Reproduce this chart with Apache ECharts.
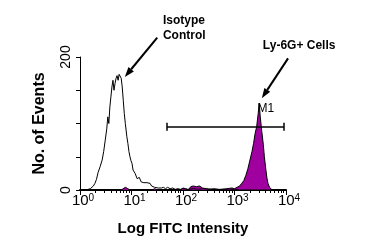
<!DOCTYPE html>
<html>
<head>
<meta charset="utf-8">
<script src="https://cdn.jsdelivr.net/npm/echarts@6/dist/echarts.min.js"></script>
<style>
  html, body { margin: 0; padding: 0; background: #fff; }
  #chart { width: 384px; height: 252px; }
</style>
</head>
<body>
<div id="chart"></div>
<script>
// x values are log10 of FITC intensity, y values are event counts
const isoLog = [0.00, 0.12, 0.16, 0.20, 0.23, 0.26, 0.29, 0.32, 0.35, 0.39, 0.43, 0.46, 0.49, 0.52, 0.54, 0.56,
  0.58, 0.60, 0.62, 0.64, 0.66, 0.68, 0.70, 0.72, 0.74, 0.76, 0.78, 0.80, 0.82, 0.84, 0.86, 0.88, 0.91, 0.93,
  0.95, 0.97, 0.99, 1.01, 1.03, 1.05, 1.07, 1.09, 1.11, 1.13, 1.15, 1.17, 1.19, 1.21, 1.24, 1.27, 1.30, 1.33,
  1.36, 1.39, 1.42, 1.45, 1.48, 1.52, 1.55, 1.58, 1.62, 1.66, 1.70, 1.75, 1.80, 1.85, 1.90, 1.95, 2.00, 2.10,
  2.20, 2.30, 2.40, 2.50, 2.60, 2.70, 2.80, 2.90, 3.00, 3.10, 4.00];
const isoCount = [0, 0, 1, 2, 4, 6, 10, 16, 26, 35, 45, 58, 75, 92, 110, 100,
  125, 140, 155, 165, 150, 160, 168, 172, 165, 174, 176, 168, 155, 135, 115, 100, 80, 70,
  58, 50, 44, 40, 30, 28, 25, 22, 17, 15, 19, 18, 12, 14, 11, 9, 11, 8,
  10, 6, 7, 4, 5, 3, 6, 3, 4, 2, 4, 2, 3, 1, 2, 1, 2, 1,
  2, 1, 2, 1, 2, 1, 1, 0, 1, 0, 0];

const lyLog = [0.00, 0.80, 0.83, 0.88, 0.93, 0.97, 1.40, 1.45, 1.50, 1.95, 2.00, 2.05, 2.10, 2.15, 2.20, 2.26,
  2.32, 2.38, 2.45, 2.55, 2.65, 2.75, 2.85, 2.95, 3.00, 3.05, 3.10, 3.14, 3.18, 3.22, 3.26, 3.30, 3.34, 3.37,
  3.40, 3.43, 3.46, 3.48, 3.50, 3.53, 3.56, 3.58, 3.61, 3.63, 3.65, 3.68, 3.72, 3.76, 4.00];
const lyCount = [0, 0, 3, 4, 2, 0, 0, 2, 0, 0, 3, 2, 0, 5, 6, 5,
  6, 3, 2, 1, 0, 1, 2, 3, 2, 4, 6, 10, 14, 22, 32, 45, 58, 70,
  85, 95, 115, 130, 110, 88, 68, 50, 30, 18, 10, 4, 1, 0, 0];

const xDecades = [0, 1, 2, 3, 4];
const yLabels = [0, 200];

// M1 gate and annotations, in data units
const gateFrom = 1.69;
const gateTo = 3.96;
const gateLevel = 95;
const isoArrow = [[1.50, 229], [0.87, 170]];
const lyArrow = [[4.04, 198], [3.53, 138]];
const isoTextAt = [1.61, 266];
const lyTextAt = [3.55, 226];
const m1TextAt = [3.61, 122];

const minorTicks = [];
for (let d = 0; d < 4; d++) {
  for (let k = 2; k <= 9; k++) {
    minorTicks.push(d + Math.log10(k));
  }
}

function pairs(xs, ys) {
  return xs.map((x, i) => [x, ys[i]]);
}

const chart = echarts.init(document.getElementById('chart'));

chart.setOption({
  animation: false,
  backgroundColor: '#fff',
  textStyle: { fontFamily: 'Liberation Sans, Arial, sans-serif', color: '#000' },
  grid: { left: 80, right: 98, top: 57, bottom: 62 },
  xAxis: [
    {
      type: 'value',
      min: 0,
      max: 4,
      interval: 1,
      name: 'Log FITC Intensity',
      nameLocation: 'middle',
      nameGap: 31,
      nameTextStyle: { fontSize: 15, fontWeight: 'bold', color: '#000' },
      axisLine: { lineStyle: { color: '#000', width: 2 } },
      axisTick: { length: 5, lineStyle: { color: '#000', width: 1 } },
      splitLine: { show: false },
      axisLabel: {
        margin: 3,
        color: '#000',
        formatter: (v) => xDecades.includes(v) ? '{b|10}{s|' + v + '}' : '',
        rich: {
          b: { fontSize: 15, color: '#000', padding: [0, 0, 0, 6] },
          s: { fontSize: 10, color: '#000', verticalAlign: 'top', padding: [0, 0, 6, 0] }
        }
      }
    },
    {
      type: 'value',
      min: 0,
      max: 4,
      position: 'bottom',
      axisLine: { show: false },
      axisLabel: { show: false },
      splitLine: { show: false },
      axisTick: { length: 3, customValues: minorTicks, lineStyle: { color: '#000', width: 1 } }
    }
  ],
  yAxis: {
    type: 'value',
    min: 0,
    max: 200,
    interval: 50,
    name: 'No. of Events',
    nameLocation: 'middle',
    nameGap: 32,
    nameRotate: 90,
    nameTextStyle: { fontSize: 16, fontWeight: 'bold', color: '#000' },
    axisLine: { show: true, lineStyle: { color: '#000', width: 1 } },
    axisTick: { show: true, length: 4, lineStyle: { color: '#000' } },
    splitLine: { show: false },
    axisLabel: {
      rotate: 90,
      margin: 7,
      fontSize: 14,
      color: '#000',
      formatter: (v) => yLabels.includes(v) ? String(v) : ''
    }
  },
  series: [
    {
      name: 'Ly-6G+ Cells',
      type: 'line',
      data: pairs(lyLog, lyCount),
      showSymbol: false,
      lineStyle: { color: '#000', width: 1 },
      areaStyle: { color: '#a000a0', opacity: 1 },
      markLine: {
        silent: true,
        symbol: 'none',
        label: { show: false },
        lineStyle: { color: '#000', width: 1.5, type: 'solid' },
        data: [
          [{ coord: [gateFrom, gateLevel] }, { coord: [gateTo, gateLevel] }],
          [{ coord: [gateFrom, gateLevel - 6] }, { coord: [gateFrom, gateLevel + 6] }],
          [{ coord: [gateTo, gateLevel - 6] }, { coord: [gateTo, gateLevel + 6] }]
        ]
      }
    },
    {
      name: 'Isotype Control',
      type: 'line',
      data: pairs(isoLog, isoCount),
      showSymbol: false,
      lineStyle: { color: '#000', width: 1 }
    }
  ]
});

function toPx(p) {
  return chart.convertToPixel({ xAxisIndex: 0, yAxisIndex: 0 }, p);
}

function arrow(from, to) {
  const a = toPx(from);
  const b = toPx(to);
  const dx = b[0] - a[0];
  const dy = b[1] - a[1];
  const len = Math.sqrt(dx * dx + dy * dy);
  const ux = dx / len;
  const uy = dy / len;
  const head = 10;
  const half = 3.5;
  const bx = b[0] - ux * head;
  const by = b[1] - uy * head;
  return [
    {
      type: 'line',
      shape: { x1: a[0], y1: a[1], x2: bx, y2: by },
      style: { stroke: '#000', lineWidth: 2 }
    },
    {
      type: 'polygon',
      shape: { points: [b, [bx - uy * half, by + ux * half], [bx + uy * half, by - ux * half]] },
      style: { fill: '#000' }
    }
  ];
}

const isoPx = toPx(isoTextAt);
const lyPx = toPx(lyTextAt);
const m1Px = toPx(m1TextAt);

chart.setOption({
  graphic: [
    ...arrow(isoArrow[0], isoArrow[1]),
    ...arrow(lyArrow[0], lyArrow[1]),
    {
      type: 'text',
      x: isoPx[0],
      y: isoPx[1],
      style: {
        text: 'Isotype\nControl',
        font: 'bold 12px Liberation Sans, Arial, sans-serif',
        lineHeight: 15,
        fill: '#000',
        align: 'left',
        verticalAlign: 'top'
      }
    },
    {
      type: 'text',
      x: lyPx[0],
      y: lyPx[1],
      style: {
        text: 'Ly-6G+ Cells',
        font: 'bold 12px Liberation Sans, Arial, sans-serif',
        fill: '#000',
        align: 'left',
        verticalAlign: 'top'
      }
    },
    {
      type: 'text',
      x: m1Px[0],
      y: m1Px[1],
      style: {
        text: 'M1',
        font: '12px Liberation Sans, Arial, sans-serif',
        fill: '#000',
        align: 'center',
        verticalAlign: 'middle'
      }
    }
  ]
});
</script>
</body>
</html>
